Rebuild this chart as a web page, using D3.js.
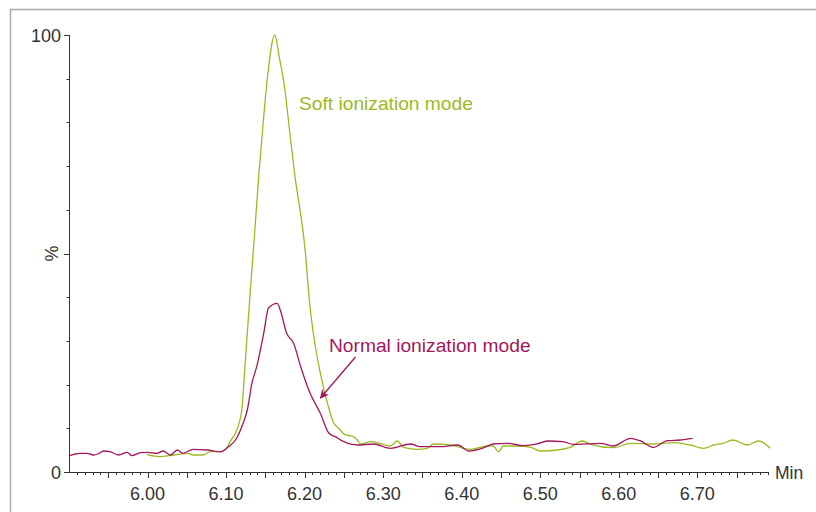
<!DOCTYPE html>
<html><head><meta charset="utf-8">
<script src="https://cdn.jsdelivr.net/npm/d3@7"></script>
<style>body{margin:0;background:#fff}svg{display:block}text{font-family:"Liberation Sans",Arial,sans-serif}</style>
</head><body>
<script>
// Retention time (min) and relative abundance (%)
const softTime = [5.999,6.016,6.033,6.051,6.058,6.071,6.080,6.093,6.102,6.105,6.112,6.120,6.124,6.130,6.136,6.142,6.147,6.153,6.162,6.168,6.175,6.180,6.187,6.201,6.206,6.211,6.220,6.229,6.237,6.243,6.252,6.260,6.267,6.271,6.284,6.296,6.309,6.318,6.326,6.344,6.356,6.364,6.386,6.402,6.411,6.433,6.440,6.447,6.453,6.471,6.488,6.500,6.522,6.538,6.554,6.564,6.593,6.615,6.644,6.670,6.691,6.708,6.721,6.733,6.745,6.764,6.778,6.793];
const softValue = [3.96,3.50,3.89,4.28,3.89,3.89,4.65,4.65,5.79,6.93,8.92,14.19,24.10,39.36,53.84,68.65,79.41,90.85,100,94.67,87.41,79.41,68.65,50.11,39.36,31.81,22.65,15.79,11.21,10.07,8.47,8.24,7.32,6.41,6.93,6.57,5.95,7.09,5.65,5.19,5.42,6.41,6.18,5.42,5.19,5.95,5.95,4.65,5.95,5.95,5.65,4.81,5.03,5.65,7.09,6.34,5.56,6.57,6.41,6.70,6.18,5.42,6.18,6.57,7.32,6.18,7.09,5.42];
const normalTime = [5.901,5.908,5.914,5.923,5.931,5.937,5.944,5.952,5.963,5.974,5.980,5.991,6.000,6.012,6.020,6.029,6.038,6.045,6.058,6.076,6.093,6.103,6.112,6.120,6.127,6.133,6.139,6.148,6.154,6.165,6.169,6.177,6.186,6.195,6.207,6.220,6.231,6.239,6.250,6.267,6.288,6.309,6.335,6.347,6.373,6.395,6.409,6.428,6.440,6.458,6.479,6.496,6.509,6.529,6.542,6.577,6.593,6.615,6.627,6.644,6.662,6.678,6.694];
const normalValue = [3.73,4.12,4.28,4.28,3.89,4.12,4.81,4.65,3.89,4.51,3.73,4.44,4.51,4.28,4.81,3.89,5.03,4.28,5.19,5.03,4.65,5.79,7.32,10.37,14.19,20.37,24.10,31.81,37.53,38.60,37.07,31.81,29.45,24.10,18.01,13.43,8.86,8.08,6.93,6.18,6.41,5.42,6.41,5.79,5.79,6.18,4.81,5.56,6.41,6.57,6.02,6.41,7.09,6.93,6.34,6.57,5.95,7.71,7.16,5.65,7.16,7.32,7.71];
const xTickLabels = ["6.00","6.10","6.20","6.30","6.40","6.50","6.60","6.70"];
const yTickLabels = ["0","100"];
const softLabel = "Soft ionization mode";
const normalLabel = "Normal ionization mode";

const W = 816, H = 512;
const green = "#9cba1e", red = "#a3175c", ink = "#333";
const svg = d3.select("body").append("svg").attr("width", W).attr("height", H);

svg.append("rect").attr("x", 10.5).attr("y", 9.5).attr("width", 900).attr("height", 700)
  .attr("fill", "none").attr("stroke", "#aaa").attr("stroke-width", 1.5);

const x = d3.scaleLinear().domain([5.90, 6.79]).range([69, 768]);
const y = d3.scaleLinear().domain([0, 100]).range([472, 35]);

// x axis: minor ticks every 0.01, longer every 0.05
const g = svg.append("g");
g.append("line").attr("x1", 69).attr("x2", 768).attr("y1", 472.5).attr("y2", 472.5).attr("stroke", ink);
const xt = d3.range(1, 90).map(i => 5.90 + i * 0.01);
g.selectAll(".xt").data(xt).join("line")
  .attr("x1", d => Math.round(x(d)) + 0.5).attr("x2", d => Math.round(x(d)) + 0.5)
  .attr("y1", 472).attr("y2", (d, i) => ((i + 1) % 5 === 0 ? 478 : 475)).attr("stroke", ink);
g.selectAll(".xl").data(xTickLabels).join("text")
  .attr("x", d => x(+d)).attr("y", 500).attr("text-anchor", "middle")
  .attr("font-size", 18).attr("fill", ink).text(d => d);
g.append("text").attr("x", 775).attr("y", 479).attr("font-size", 17.5).attr("fill", ink).text("Min");

// y axis
g.append("line").attr("x1", 69.5).attr("x2", 69.5).attr("y1", 35).attr("y2", 472).attr("stroke", ink);
const yt = d3.range(0, 11).map(i => i * 10);
g.selectAll(".yt").data(yt).join("line")
  .attr("x1", d => (d % 50 === 0 ? 64 : 66.5)).attr("x2", 69)
  .attr("y1", d => Math.round(y(d)) + 0.5).attr("y2", d => Math.round(y(d)) + 0.5).attr("stroke", ink);
g.selectAll(".yl").data(yTickLabels).join("text")
  .attr("x", 61).attr("y", d => y(+d) + 6.5).attr("text-anchor", "end")
  .attr("font-size", 18).attr("fill", ink).text(d => d);
g.append("text").attr("transform", `translate(58,${y(50)}) rotate(-90)`).attr("text-anchor", "middle")
  .attr("font-size", 18).attr("fill", ink).text("%");

const line = d3.line().x(d => x(d[0])).y(d => y(d[1])).curve(d3.curveMonotoneX);
const soft = softTime.map((t, i) => [t, softValue[i]]);
const normal = normalTime.map((t, i) => [t, normalValue[i]]);
svg.append("path").datum(soft).attr("d", line)
  .attr("fill", "none").attr("stroke", green).attr("stroke-width", 1.3);
svg.append("path").datum(normal).attr("d", line)
  .attr("fill", "none").attr("stroke", red).attr("stroke-width", 1.3);

svg.append("text").attr("x", 299).attr("y", 110).attr("font-size", 19.2).attr("fill", green).text(softLabel);
svg.append("text").attr("x", 329).attr("y", 352).attr("font-size", 19.2).attr("fill", red).text(normalLabel);

// arrow
svg.append("defs").append("marker").attr("id", "ah").attr("viewBox", "0 0 10 10")
  .attr("refX", 9).attr("refY", 5).attr("markerWidth", 7).attr("markerHeight", 7).attr("orient", "auto")
  .append("path").attr("d", "M0,0 L10,5 L0,10 L3,5 Z").attr("fill", red);
svg.append("line").attr("x1", 355.5).attr("y1", 357).attr("x2", 320.5).attr("y2", 398)
  .attr("stroke", red).attr("stroke-width", 1.3).attr("marker-end", "url(#ah)");
</script>
</body></html>
